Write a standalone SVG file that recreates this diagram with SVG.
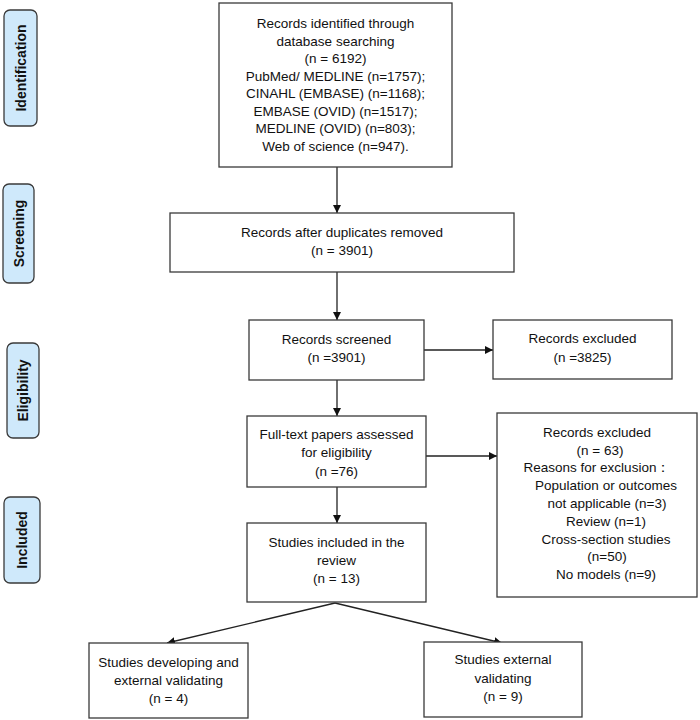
<svg xmlns="http://www.w3.org/2000/svg" width="700" height="720" viewBox="0 0 700 720">
<defs>
<style>
.box{fill:#fff;stroke:#3a3a3a;stroke-width:1.3}
.stage{fill:#cfe9fb;stroke:#3a3a3a;stroke-width:1.3}
.t{font-family:"Liberation Sans",Arial,sans-serif;font-size:13.5px;fill:#111;text-anchor:middle}
.s{font-family:"Liberation Sans",Arial,sans-serif;font-size:14px;font-weight:bold;fill:#111;text-anchor:middle}
.c{stroke:#222;stroke-width:1.3;fill:none}
</style>
<marker id="ah" viewBox="0 0 10 10" refX="10" refY="5" markerWidth="8" markerHeight="8" markerUnits="userSpaceOnUse" orient="auto">
<path d="M0,0 L10,5 L0,10 z" fill="#111"/>
</marker>
</defs>
<rect width="700" height="720" fill="#fff"/>

<g id="stage-identification"><rect class="stage" x="4" y="10" width="33" height="116" rx="6"/><text class="s" transform="translate(25.5,68) rotate(-90)">Identification</text></g>
<g id="stage-screening"><rect class="stage" x="3" y="184" width="31" height="99" rx="6"/><text class="s" transform="translate(23.5,233.5) rotate(-90)">Screening</text></g>
<g id="stage-eligibility"><rect class="stage" x="7" y="343" width="32" height="95" rx="6"/><text class="s" transform="translate(28,390.5) rotate(-90)">Eligibility</text></g>
<g id="stage-included"><rect class="stage" x="4" y="497" width="36" height="86" rx="6"/><text class="s" transform="translate(27,540) rotate(-90)">Included</text></g>

<g id="connectors">
<line class="c" x1="337" y1="167" x2="337" y2="213" marker-end="url(#ah)"/>
<line class="c" x1="337" y1="272" x2="337" y2="320" marker-end="url(#ah)"/>
<line class="c" x1="337" y1="380" x2="337" y2="416" marker-end="url(#ah)"/>
<line class="c" x1="337" y1="487" x2="337" y2="523" marker-end="url(#ah)"/>
<line class="c" x1="424" y1="350" x2="493" y2="350" marker-end="url(#ah)"/>
<line class="c" x1="426" y1="456" x2="497" y2="456" marker-end="url(#ah)"/>
<line class="c" x1="335" y1="603" x2="167" y2="643" marker-end="url(#ah)"/>
<line class="c" x1="335" y1="603" x2="502" y2="643" marker-end="url(#ah)"/>
</g>

<g id="records-identified"><rect class="box" x="219" y="3" width="233" height="164"/>
<text class="t" x="335.5" y="28">Records identified through</text>
<text class="t" x="335.5" y="45.5">database searching</text>
<text class="t" x="335.5" y="63">(n = 6192)</text>
<text class="t" x="335.5" y="80.5">PubMed/ MEDLINE (n=1757);</text>
<text class="t" x="335.5" y="98">CINAHL (EMBASE) (n=1168);</text>
<text class="t" x="335.5" y="115.5">EMBASE (OVID) (n=1517);</text>
<text class="t" x="335.5" y="133">MEDLINE (OVID) (n=803);</text>
<text class="t" x="335.5" y="150.5">Web of science (n=947).</text>
</g>

<g id="records-dedup"><rect class="box" x="170" y="213" width="344" height="59"/>
<text class="t" x="342" y="237">Records after duplicates removed</text>
<text class="t" x="342" y="255">(n = 3901)</text>
</g>

<g id="records-screened"><rect class="box" x="249" y="320" width="175" height="60"/>
<text class="t" x="336.5" y="344">Records screened</text>
<text class="t" x="336.5" y="362">(n =3901)</text>
</g>

<g id="records-excluded"><rect class="box" x="493" y="320" width="179" height="59"/>
<text class="t" x="582.5" y="343">Records excluded</text>
<text class="t" x="582.5" y="362">(n =3825)</text>
</g>

<g id="fulltext"><rect class="box" x="247" y="416" width="179" height="71"/>
<text class="t" x="336.5" y="439">Full-text papers assessed</text>
<text class="t" x="336.5" y="457">for eligibility</text>
<text class="t" x="336.5" y="476">(n =76)</text>
</g>

<g id="excluded-63"><rect class="box" x="497" y="413" width="200" height="184"/>
<text class="t" x="597" y="437">Records excluded</text>
<text class="t" x="600" y="454.5">(n = 63)</text>
<text class="t" x="597" y="472">Reasons for exclusion：</text>
<text class="t" x="606" y="490">Population or outcomes</text>
<text class="t" x="607" y="508">not applicable (n=3)</text>
<text class="t" x="606" y="526">Review (n=1)</text>
<text class="t" x="606" y="543.5">Cross-section studies</text>
<text class="t" x="607" y="561">(n=50)</text>
<text class="t" x="606" y="579">No models (n=9)</text>
</g>

<g id="included"><rect class="box" x="247" y="523" width="179" height="79"/>
<text class="t" x="336.5" y="547">Studies included in the</text>
<text class="t" x="336.5" y="565">review</text>
<text class="t" x="336.5" y="583">(n = 13)</text>
</g>

<g id="developing"><rect class="box" x="89" y="643" width="159" height="75"/>
<text class="t" x="168.5" y="667">Studies developing and</text>
<text class="t" x="168.5" y="685">external validating</text>
<text class="t" x="168.5" y="703">(n = 4)</text>
</g>

<g id="external"><rect class="box" x="424" y="642" width="158" height="75"/>
<text class="t" x="503" y="664">Studies external</text>
<text class="t" x="503" y="683">validating</text>
<text class="t" x="503" y="701">(n = 9)</text>
</g>
</svg>
